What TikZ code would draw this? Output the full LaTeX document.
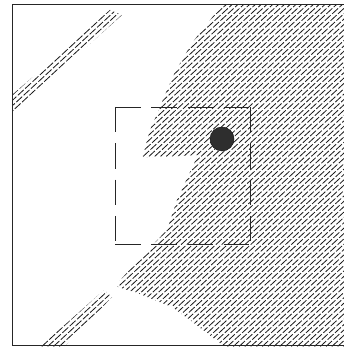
\documentclass[tikz,border=0pt]{standalone}
\begin{document}
\begin{tikzpicture}[x=1pt,y=-1pt,
  hatchline/.style={line width=0.8pt,draw=black!90,dash pattern=on 8pt off 2pt},
  framestyle/.style={line width=1pt,draw=black!85},
  boxside/.style={line width=0.9pt,draw=black!85,dash pattern=on 25.5pt off 10.8pt},
  blob/.style={fill=black!82,draw=black!90,line width=0.5pt}]
\useasboundingbox (0,0) rectangle (344,347);
% hatched regions
\begin{scope}
\clip (222,5) -- (346,5) -- (346,347) -- (225,347) -- (190,320) -- (172,307) -- (140,294) -- (115,286) -- (143,255) -- (167,230) -- (177,200) -- (198,155) -- (142,158) -- (150,130) -- (160,107) -- (167,90) -- (175,72) -- (192,43) -- cycle
 (12,95) -- (110,10) -- (122,15) -- (12,114) -- cycle
 (40,347) -- (104,290) -- (112,297) -- (64,347) -- cycle;
\foreach \k in {0,...,145} \draw[hatchline] ({-460+\k*5.8},360) -- ++(395,-365);
\end{scope}
% frame
\coordinate (tl) at (12,5);
\coordinate (tr) at (344,5);
\coordinate (bl) at (12,345);
\coordinate (br) at (344,345);
\draw[framestyle] (tr) -- (tl) -- (bl) -- (br);
% dashed box
\coordinate (a) at (115,107);
\coordinate (b) at (250,107);
\coordinate (c) at (250,244);
\coordinate (d) at (115,244);
\draw[boxside] (a) -- (b);
\draw[boxside] (d) -- (c);
\draw[boxside] (a) -- (d);
\draw[boxside] (b) -- (c);
% dot
\node[circle,blob,minimum size=24pt,inner sep=0pt] (dot) at (222,139) {};
\end{tikzpicture}
\end{document}
